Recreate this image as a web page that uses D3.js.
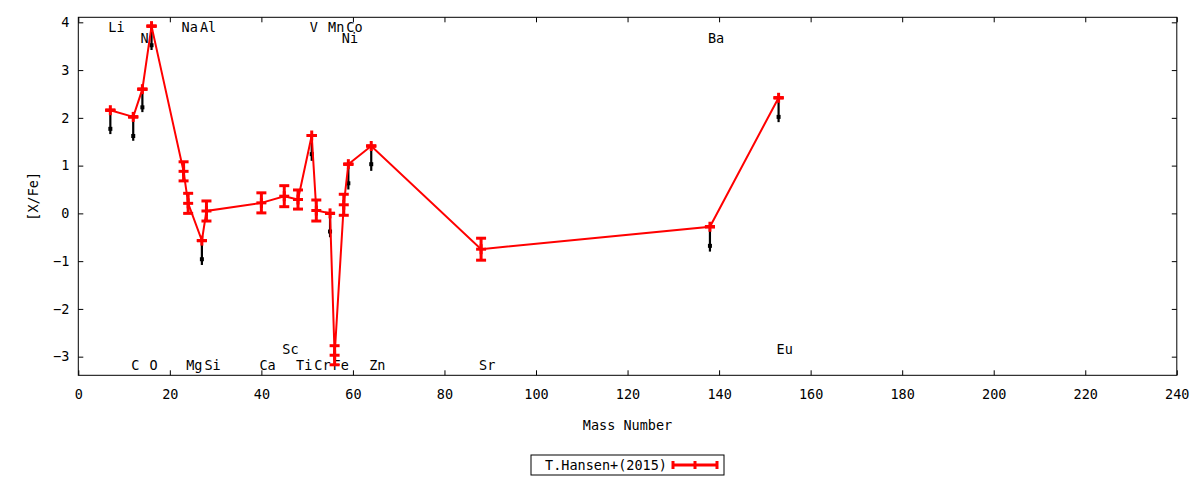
<!DOCTYPE html>
<html>
<head>
<meta charset="utf-8">
<script src="https://cdn.jsdelivr.net/npm/d3@7"></script>
<style>
  body { margin: 0; background: #fff; }
  text { font-family: "DejaVu Sans Mono", monospace; font-size: 13.5px; fill: #000; }
</style>
</head>
<body>
<div id="chart"></div>
<script>
// Hansen et al. (2015) abundances, mass number vs [X/Fe]
const massNumbers = [7, 12, 14, 16, 23, 24, 27, 28, 40, 45, 48, 51, 52, 55, 56, 58, 59, 64, 88, 138, 153];
const abundances = [2.16, 2.02, 2.60, 3.92, 0.88, 0.21, -0.57, 0.05, 0.22, 0.36, 0.29, 1.63, 0.06, 0.00, -2.97, 0.18, 1.03, 1.41, -0.75, -0.28, 2.42];
const errors = [0, 0, 0, 0, 0.20, 0.21, 0, 0.21, 0.21, 0.22, 0.20, 0, 0.22, 0, 0.20, 0.22, 0, 0, 0.23, 0, 0];

// second set (black, drawn without a legend entry)
const blackMass = [7, 12, 14, 16, 27, 51, 55, 59, 64, 138, 153];
const blackTop = [2.16, 2.02, 2.60, 3.92, -0.57, 1.63, 0.00, 1.03, 1.41, -0.28, 2.42];
const blackValue = [1.77, 1.62, 2.22, 3.52, -0.96, 1.24, -0.38, 0.63, 1.03, -0.68, 2.02];
const blackBottom = [1.66, 1.52, 2.12, 3.42, -1.08, 1.10, -0.50, 0.50, 0.89, -0.80, 1.91];

// element labels
const labelNames = ["Li", "C", "N", "O", "Na", "Mg", "Al", "Si", "Ca", "Sc", "Ti", "V", "Cr", "Mn", "Fe", "Co", "Ni", "Zn", "Sr", "Ba", "Eu"];
const labelMass = [7, 12, 14, 16, 23, 24, 27, 28, 40, 45, 48, 51, 52, 55, 56, 59, 58, 64, 88, 138, 153];
const labelY = [3.9, -3.17, 3.67, -3.17, 3.9, -3.17, 3.9, -3.17, -3.17, -2.84, -3.17, 3.9, -3.17, 3.9, -3.17, 3.9, 3.67, -3.17, -3.17, 3.67, -2.84];

const xTicks = [0, 20, 40, 60, 80, 100, 120, 140, 160, 180, 200, 220, 240];
const yTicks = [-3, -2, -1, 0, 1, 2, 3, 4];
const seriesName = "T.Hansen+(2015)";

const width = 1200, height = 480;
const margin = { left: 78.3, right: 23.2, top: 17.3, bottom: 104.7 };

const svg = d3.select("#chart").append("svg")
  .attr("width", width).attr("height", height);

const x = d3.scaleLinear().domain([0, 240]).range([margin.left, width - margin.right]);
const y = d3.scaleLinear().domain([-3.39, 4.105]).range([height - margin.bottom, margin.top]);

// axes, ticks pointing inwards
svg.append("g")
  .attr("transform", `translate(0,${y.range()[0]})`)
  .call(d3.axisBottom(x).tickValues(xTicks).tickSizeInner(-5).tickSizeOuter(0).tickPadding(14))
  .call(g => g.select(".domain").remove());
svg.append("g")
  .attr("transform", `translate(0,${y.range()[1]})`)
  .call(d3.axisTop(x).tickValues(xTicks).tickSizeInner(-5).tickSizeOuter(0).tickFormat(() => ""))
  .call(g => g.select(".domain").remove());
svg.append("g")
  .attr("transform", `translate(${x.range()[0]},0)`)
  .call(d3.axisLeft(y).tickValues(yTicks).tickSizeInner(-5).tickSizeOuter(0).tickPadding(9))
  .call(g => g.select(".domain").remove());
svg.append("g")
  .attr("transform", `translate(${x.range()[1]},0)`)
  .call(d3.axisRight(y).tickValues(yTicks).tickSizeInner(-5).tickSizeOuter(0).tickFormat(() => ""))
  .call(g => g.select(".domain").remove());
svg.selectAll(".tick line").attr("stroke", "#000");
svg.selectAll(".tick text")
  .style("font-family", '"DejaVu Sans Mono", monospace')
  .style("font-size", "13.5px").attr("fill", "#000");

// plot border
svg.append("rect")
  .attr("x", x.range()[0]).attr("y", y.range()[1])
  .attr("width", x.range()[1] - x.range()[0])
  .attr("height", y.range()[0] - y.range()[1])
  .attr("fill", "none").attr("stroke", "#000").attr("stroke-width", 1);

// axis titles
svg.append("text")
  .attr("x", (x.range()[0] + x.range()[1]) / 2).attr("y", 430)
  .attr("text-anchor", "middle").text("Mass Number");
svg.append("text")
  .attr("transform", `translate(33,${(y.range()[0] + y.range()[1]) / 2}) rotate(-90)`)
  .attr("text-anchor", "middle").attr("dominant-baseline", "central").text("[X/Fe]");

// element labels
svg.append("g").selectAll("text")
  .data(labelNames)
  .join("text")
  .attr("x", (d, i) => x(labelMass[i]) - 2)
  .attr("y", (d, i) => y(labelY[i]))
  .attr("dominant-baseline", "central")
  .text(d => d);

// black set
const black = svg.append("g");
black.selectAll("line")
  .data(blackMass)
  .join("line")
  .attr("x1", d => x(d)).attr("x2", d => x(d))
  .attr("y1", (d, i) => y(blackTop[i]))
  .attr("y2", (d, i) => y(blackBottom[i]))
  .attr("stroke", "#000").attr("stroke-width", 2.2);
black.selectAll("rect")
  .data(blackMass)
  .join("rect")
  .attr("x", d => x(d) - 2).attr("y", (d, i) => y(blackValue[i]) - 2)
  .attr("width", 4).attr("height", 4)
  .attr("fill", "#000");

// red series: line + error bars + points
const red = "#ff0000";
const pts = massNumbers.map((m, i) => ({ m, v: abundances[i], e: errors[i] }));

svg.append("path")
  .datum(pts)
  .attr("fill", "none").attr("stroke", red).attr("stroke-width", 2)
  .attr("d", d3.line().x(d => x(d.m)).y(d => y(d.v)));

const capW = 5;
const marks = svg.append("g").attr("stroke", red).attr("stroke-width", 3);
marks.selectAll(".bar")
  .data(pts)
  .join("line")
  .attr("class", "bar")
  .attr("x1", d => x(d.m)).attr("x2", d => x(d.m))
  .attr("y1", d => y(d.v + d.e)).attr("y2", d => y(d.v - d.e));
marks.selectAll(".capTop")
  .data(pts)
  .join("line")
  .attr("class", "capTop")
  .attr("x1", d => x(d.m) - capW).attr("x2", d => x(d.m) + capW)
  .attr("y1", d => y(d.v + d.e)).attr("y2", d => y(d.v + d.e));
marks.selectAll(".capBot")
  .data(pts)
  .join("line")
  .attr("class", "capBot")
  .attr("x1", d => x(d.m) - capW).attr("x2", d => x(d.m) + capW)
  .attr("y1", d => y(d.v - d.e)).attr("y2", d => y(d.v - d.e));
marks.selectAll(".plusH")
  .data(pts)
  .join("line")
  .attr("class", "plusH")
  .attr("x1", d => x(d.m) - 5).attr("x2", d => x(d.m) + 5)
  .attr("y1", d => y(d.v)).attr("y2", d => y(d.v));
marks.selectAll(".plusV")
  .data(pts)
  .join("line")
  .attr("class", "plusV")
  .attr("x1", d => x(d.m)).attr("x2", d => x(d.m))
  .attr("y1", d => y(d.v) - 5).attr("y2", d => y(d.v) + 5);

// legend
const legend = svg.append("g");
legend.append("rect")
  .attr("x", 531).attr("y", 455).attr("width", 193).attr("height", 20)
  .attr("fill", "none").attr("stroke", "#000").attr("stroke-width", 1);
legend.append("text")
  .attr("x", 545).attr("y", 465).attr("dominant-baseline", "central")
  .text(seriesName);
legend.append("line")
  .attr("x1", 673).attr("x2", 717).attr("y1", 465).attr("y2", 465)
  .attr("stroke", red).attr("stroke-width", 3);
legend.selectAll(".cap")
  .data([673, 695, 717])
  .join("line")
  .attr("class", "cap")
  .attr("x1", d => d).attr("x2", d => d).attr("y1", 461).attr("y2", 469)
  .attr("stroke", red).attr("stroke-width", 3);
</script>
</body>
</html>
